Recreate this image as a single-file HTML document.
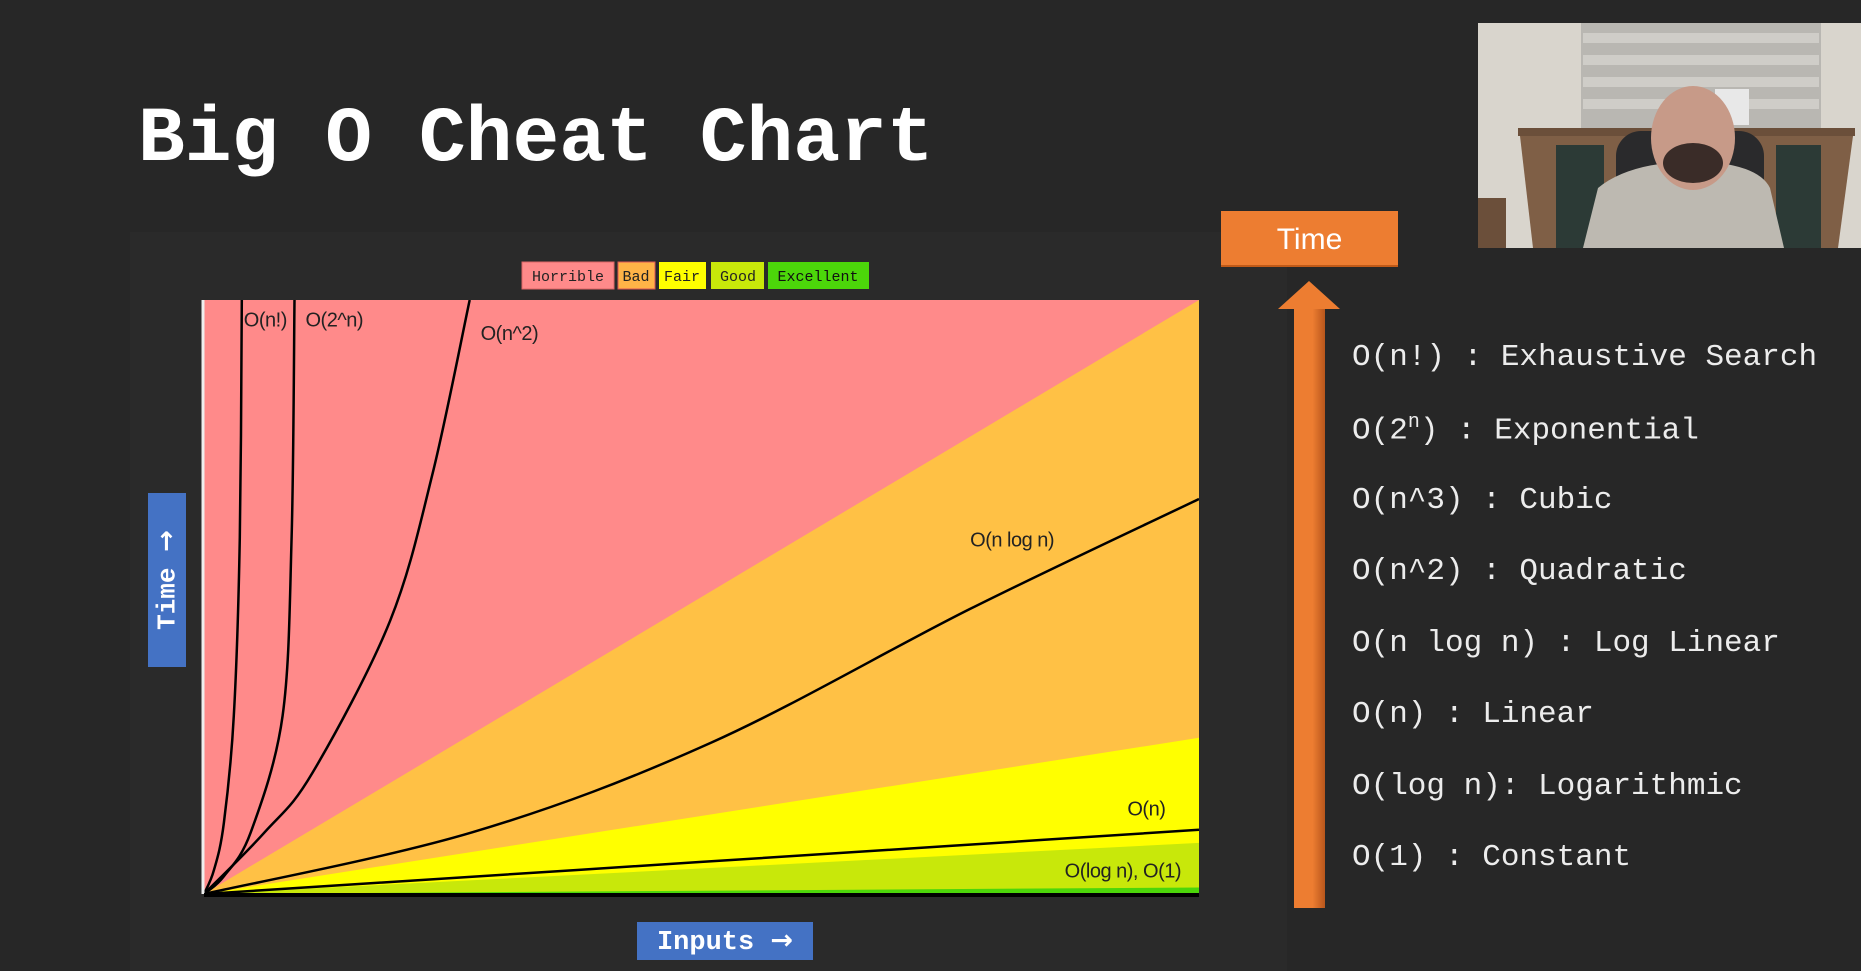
<!DOCTYPE html>
<html><head><meta charset="utf-8"><style>
html,body{margin:0;padding:0;background:#272727;width:1861px;height:971px;overflow:hidden}
body{position:relative;font-family:"Liberation Mono",monospace}
.abs{position:absolute}
#title{left:138px;top:96px;font:bold 78px "Liberation Mono",monospace;color:#fff;white-space:nowrap}
.list{left:1352px;font:31px "Liberation Mono",monospace;color:#ececec;white-space:nowrap}
</style></head><body>
<div class="abs" style="left:130px;top:232px;width:1157px;height:739px;background:#2a2a2a"></div>
<div id="title" class="abs">Big O Cheat Chart</div>

<svg class="abs" style="left:0;top:0" width="1861" height="971">
 <g id="legend">
  <rect x="522" y="262" width="92" height="27" fill="#ff8a8a" stroke="#d66"/>
  <text x="568" y="281" text-anchor="middle" font-family="Liberation Mono" font-size="15" fill="#222">Horrible</text>
  <rect x="618" y="262" width="37" height="27" fill="#ffb347" stroke="#d55"/>
  <text x="636" y="281" text-anchor="middle" font-family="Liberation Mono" font-size="15" fill="#222">Bad</text>
  <rect x="659" y="262" width="47" height="27" fill="#ffff00"/>
  <text x="682" y="281" text-anchor="middle" font-family="Liberation Mono" font-size="15" fill="#222">Fair</text>
  <rect x="711" y="262" width="53" height="27" fill="#c8e80a"/>
  <text x="738" y="281" text-anchor="middle" font-family="Liberation Mono" font-size="15" fill="#222">Good</text>
  <rect x="768" y="262" width="101" height="27" fill="#4cd60a"/>
  <text x="818" y="281" text-anchor="middle" font-family="Liberation Mono" font-size="15" fill="#111">Excellent</text>
 </g>
 <g id="plot"></g>
</svg>

<div class="abs" style="left:148px;top:493px;width:38px;height:174px;background:#4472c4">
 <div style="position:absolute;left:19px;top:87px;transform:translate(-50%,-50%) rotate(-90deg);font:bold 26px 'Liberation Mono',monospace;color:#fff;white-space:nowrap">Time <span style="font-family:'DejaVu Sans';font-weight:bold">→</span></div>
</div>
<div class="abs" style="left:637px;top:922px;width:176px;height:38px;background:#4472c4;color:#fff;font:bold 27px 'Liberation Mono',monospace;line-height:38px;text-align:center;white-space:nowrap">Inputs <span style="font-family:'DejaVu Sans';font-weight:bold">→</span></div>

<div class="abs" style="left:1221px;top:211px;width:177px;height:54px;background:#ed7d31;color:#fff;font:30px 'Liberation Sans',sans-serif;line-height:58px;text-align:center;box-shadow:0 2px 0 #c05a18">Time</div>
<svg class="abs" style="left:1270px;top:275px" width="80" height="640">
 <defs><linearGradient id="sg" x1="0" x2="1"><stop offset="0" stop-color="#ed7d31"/><stop offset="0.6" stop-color="#ed7d31"/><stop offset="1" stop-color="#b8561c"/></linearGradient></defs>
 <rect x="24" y="30" width="31" height="603" fill="url(#sg)"/>
 <polygon points="39,6 70,34 8,34" fill="#ed7d31"/>
</svg>

<div class="abs list" style="top:340px">O(n!) : Exhaustive Search</div>
<div class="abs list" style="top:411px">O(2<sup style="font-size:20px">n</sup>) : Exponential</div>
<div class="abs list" style="top:483px">O(n^3) : Cubic</div>
<div class="abs list" style="top:554px">O(n^2) : Quadratic</div>
<div class="abs list" style="top:626px">O(n log n) : Log Linear</div>
<div class="abs list" style="top:697px">O(n) : Linear</div>
<div class="abs list" style="top:769px">O(log n): Logarithmic</div>
<div class="abs list" style="top:840px">O(1) : Constant</div>

<svg class="abs" style="left:1478px;top:23px" width="383" height="225">
 <rect width="383" height="225" fill="#d9d5cd"/>
 <rect x="103" y="0" width="240" height="105" fill="#b9b7b2"/>
 <g fill="#cfcdc8"><rect x="105" y="10" width="236" height="10"/><rect x="105" y="32" width="236" height="10"/><rect x="105" y="54" width="236" height="10"/><rect x="105" y="76" width="236" height="10"/></g>
 <rect x="237" y="66" width="34" height="36" fill="#e8e8e8"/>
 <rect x="40" y="105" width="337" height="8" fill="#6b4f3a"/>
 <polygon points="42,113 375,113 360,225 55,225" fill="#7f5f46"/>
 <rect x="78" y="122" width="48" height="103" fill="#2c3a36"/>
 <rect x="298" y="122" width="45" height="103" fill="#2c3a36"/>
 <rect x="138" y="108" width="148" height="117" rx="25" fill="#2a2a2c"/>
 <path d="M105 225 L120 165 Q150 140 215 138 Q280 140 292 165 L306 225Z" fill="#bdb9b1"/>
 <ellipse cx="215" cy="115" rx="42" ry="52" fill="#c79a88"/>
 <ellipse cx="215" cy="140" rx="30" ry="20" fill="#3a2c28"/>
 <rect x="0" y="175" width="28" height="50" fill="#6b4f3a"/>
</svg>

<script>
// data (x: input size 0-100, y: time 0-100)
const factorialX = [0, 1, 2, 3, 3.6, 3.8];
const factorialY = [0, 4, 12, 30, 60, 100];
const expX = [0, 2, 4.7, 7.9, 8.8, 9.1];
const expY = [0, 3, 10.4, 30, 60, 100];
const quadX = [0, 6.1, 10.9, 18.7, 23, 26.7];
const quadY = [0, 10.4, 20.4, 46, 71, 100];
const nlognX = [0, 27, 51, 77, 100];
const nlognY = [0, 10.4, 25.5, 48, 66.5];
const linearX = [0, 25, 50, 75, 100];
const linearY = [0, 2.7, 5.4, 8.1, 10.8];
const zoneNames = ['bad', 'fair', 'good', 'excellent'];
const zoneEdgeY = [100, 26.3, 8.6, 1.1];
const zoneColors = ['#ffc145', '#ffff00', '#c8e80a', '#4cd60a'];
const curveLabels = ['O(n!)', 'O(2^n)', 'O(n^2)', 'O(n log n)', 'O(n)', 'O(log n), O(1)'];
const labelAtX = [4, 10.2, 27.8, 77, 92.8, 86.5];
const labelAtY = [95.5, 95.5, 93.3, 58.5, 13.2, 2.8];

const X0 = 204, X1 = 1199, Y0 = 894, Y1 = 300;
const sx = v => X0 + (X1 - X0) * v / 100;
const sy = v => Y0 - (Y0 - Y1) * v / 100;
const NS = 'http://www.w3.org/2000/svg';
const g = document.getElementById('plot');
function mk(tag, attrs) { const e = document.createElementNS(NS, tag); for (const k in attrs) e.setAttribute(k, attrs[k]); g.appendChild(e); return e; }

const bg = mk('rect', { x: X0, y: Y1, width: X1 - X0, height: Y0 - Y1, fill: '#ff8a8a' });


zoneEdgeY.forEach((v, i) => {
  const p = mk('polygon', { points: `${sx(0)},${sy(0)} ${sx(100)},${sy(v)} ${sx(100)},${sy(0)}`, fill: zoneColors[i] });
  
  
});
function spline(pts) {
  let d = 'M' + pts[0][0].toFixed(1) + ' ' + pts[0][1].toFixed(1);
  for (let i = 0; i < pts.length - 1; i++) {
    const p0 = pts[i - 1] || pts[i], p1 = pts[i], p2 = pts[i + 1], p3 = pts[i + 2] || p2;
    const c1 = [p1[0] + (p2[0] - p0[0]) / 6, p1[1] + (p2[1] - p0[1]) / 6];
    const c2 = [p2[0] - (p3[0] - p1[0]) / 6, p2[1] - (p3[1] - p1[1]) / 6];
    d += ` C${c1[0].toFixed(1)} ${c1[1].toFixed(1)} ${c2[0].toFixed(1)} ${c2[1].toFixed(1)} ${p2[0].toFixed(1)} ${p2[1].toFixed(1)}`;
  }
  return d;
}
const defs = mk('clipPath', { id: 'pc' });
const cr = document.createElementNS(NS, 'rect');
cr.setAttribute('x', X0); cr.setAttribute('y', Y1); cr.setAttribute('width', X1 - X0); cr.setAttribute('height', Y0 - Y1);
defs.appendChild(cr);
const series = [[factorialX, factorialY, 'curve-factorial'], [expX, expY, 'curve-exponential'], [quadX, quadY, 'curve-quadratic'], [nlognX, nlognY, 'curve-n-log-n'], [linearX, linearY, 'curve-linear']];
series.forEach(([xs, ys, name]) => {
  const pts = xs.map((x, i) => [sx(x), sy(ys[i])]);
  const p = mk('path', { d: spline(pts), fill: 'none', stroke: '#000', 'stroke-width': 2.5, 'stroke-linejoin': 'round', 'clip-path': 'url(#pc)' });
  
  
});
const left = mk('line', { x1: X0 - 1, y1: Y1, x2: X0 - 1, y2: Y0, stroke: '#eee', 'stroke-width': 3 });


const bot = mk('line', { x1: X0, y1: Y0 + 1, x2: X1, y2: Y0 + 1, stroke: '#000', 'stroke-width': 4 });


curveLabels.forEach((t, i) => {
  const e = mk('text', { x: sx(labelAtX[i]), y: sy(labelAtY[i]), 'font-family': 'Liberation Sans, sans-serif', 'font-size': 20, 'letter-spacing': '-0.5', fill: '#222' });
  e.textContent = t;
  
  
});
</script>
</body></html>
